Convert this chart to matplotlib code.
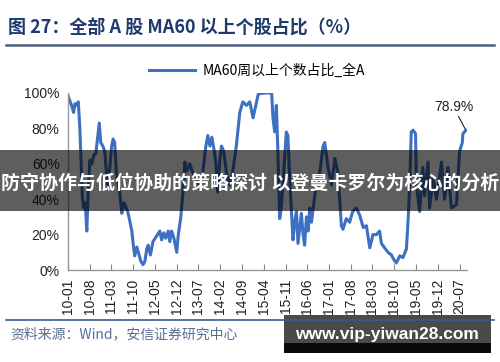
"""
Share of A-share stocks trading above their 60-day moving average (weekly).
"""

import matplotlib.pyplot as plt
import matplotlib.patches as patches
import pandas as pd

plt.rcParams["font.family"] = ["Liberation Sans", "Noto Sans CJK SC", "DejaVu Sans"]

# Readings taken off the reference chart (date, % of stocks above MA60)
dates = [
    "2010-01-04", "2010-01-22", "2010-02-10", "2010-02-25", "2010-03-10", "2010-03-28",
    "2010-04-12", "2010-04-27", "2010-05-22", "2010-06-04", "2010-06-19", "2010-07-04",
    "2010-07-18", "2010-08-03", "2010-08-21", "2010-09-12", "2010-10-01", "2010-10-19",
    "2010-11-03", "2010-11-18", "2010-12-08", "2010-12-27", "2011-01-12", "2011-01-27",
    "2011-02-15", "2011-03-04", "2011-03-19", "2011-04-03", "2011-04-18", "2011-05-03",
    "2011-05-22", "2011-06-12", "2011-07-01", "2011-07-19", "2011-08-09", "2011-08-28",
    "2011-09-18", "2011-10-03", "2011-10-16", "2011-11-06", "2011-11-25", "2011-12-15",
    "2012-01-06", "2012-01-24", "2012-02-12", "2012-02-25", "2012-03-18", "2012-04-12",
    "2012-05-15", "2012-06-18", "2012-07-06", "2012-07-27", "2012-08-15", "2012-09-09",
    "2012-09-24", "2012-10-12", "2012-11-03", "2012-12-01", "2012-12-16", "2013-01-10",
    "2013-02-01", "2013-02-19", "2013-03-10", "2013-04-07", "2013-05-07", "2013-06-06",
    "2013-07-13", "2013-08-13", "2013-09-12", "2013-10-01", "2013-10-22", "2013-11-10",
    "2013-11-28", "2013-12-18", "2014-01-06", "2014-01-27", "2014-02-12", "2014-03-06",
    "2014-04-01", "2014-05-04", "2014-06-03", "2014-07-07", "2014-08-10", "2014-09-09",
    "2014-10-15", "2014-11-16", "2014-12-18", "2015-01-21", "2015-02-08", "2015-04-10",
    "2015-06-18", "2015-07-01", "2015-07-18", "2015-08-03", "2015-08-18", "2015-09-05",
    "2015-09-20", "2015-10-06", "2015-11-09", "2015-11-24", "2015-12-12", "2016-01-13",
    "2016-02-01", "2016-02-16", "2016-03-02", "2016-04-04", "2016-04-21", "2016-05-06",
    "2016-05-24", "2016-06-09", "2016-06-25", "2016-07-12", "2016-08-13", "2016-09-12",
    "2016-10-01", "2016-11-03", "2016-11-19", "2016-12-21", "2017-01-24", "2017-02-26",
    "2017-03-28", "2017-05-01", "2017-05-16", "2017-06-18", "2017-07-21", "2017-08-19",
    "2017-09-25", "2017-10-27", "2017-12-01", "2018-01-01", "2018-02-03", "2018-03-06",
    "2018-04-09", "2018-05-10", "2018-05-28", "2018-06-28", "2018-08-01", "2018-09-03",
    "2018-09-25", "2018-10-21", "2018-11-24", "2018-12-25", "2019-01-28", "2019-02-15",
    "2019-03-01", "2019-03-16", "2019-04-03", "2019-04-27", "2019-05-06", "2019-06-06",
    "2019-07-07", "2019-07-24", "2019-08-27", "2019-09-12", "2019-10-15", "2019-11-18",
    "2020-01-06", "2020-02-06", "2020-03-09", "2020-04-12", "2020-06-01", "2020-07-01",
    "2020-07-28", "2020-08-03", "2020-09-01",
]
pct_above_ma60 = [
    98, 95, 92, 89, 94, 93,
    95, 80, 41, 35, 38, 22,
    45, 62, 60, 65, 66, 75,
    83, 72, 70, 67, 55, 48,
    58, 70, 74, 72, 56, 50,
    44, 32, 38, 36, 33, 28,
    22, 14, 8, 13, 9, 5,
    3, 5, 12, 14, 8.5, 16,
    19, 22, 17, 21, 18, 22,
    16, 22, 18, 10, 20, 30,
    45, 61, 56, 60, 55, 52,
    48, 55, 70, 76, 70, 75,
    69, 61, 44, 62, 70, 67,
    55, 48, 56, 70, 89, 95,
    93, 95, 86, 95, 99.5, 100,
    100, 86, 78, 93, 67, 29,
    35, 48, 78, 76, 52, 17,
    28, 33, 15, 32, 20, 14,
    30, 22, 35, 27, 42, 53,
    55, 70, 72, 58, 48, 63,
    55, 25, 23, 29, 27, 33,
    35, 31, 24, 25, 12.5, 20,
    20, 22, 15, 12.5, 10, 8.5,
    6, 4, 8, 7, 12, 30,
    48, 78, 79, 77, 48, 33,
    58, 42, 61, 35, 52, 40,
    61, 40, 58, 35, 37, 67,
    72, 77, 78.9,
]
tick_labels = [
    "10-01", "10-08", "11-03", "11-10", "12-05", "12-12", "13-07", "14-02", "14-09",
    "15-04", "15-11", "16-06", "17-01", "17-08", "18-03", "18-10", "19-05", "19-12",
    "20-07",
]
y_ticks = [0, 20, 40, 60, 80, 100]

title_text = "图 27：全部 A 股 MA60 以上个股占比（%）"
series_label = "MA60周以上个数占比_全A"
source_text = "资料来源：Wind，安信证券研究中心"
banner_text = "防守协作与低位协助的策略探讨 以登曼卡罗尔为核心的分析"
site_text = "www.vip-yiwan28.com"

LINE_BLUE = "#3d6fc2"
NAVY = "#1f3a6e"

W, H = 500, 362


def fx(px):
    return px / W


def fy(py):
    return 1 - py / H


def main():
    df = pd.DataFrame({"date": pd.to_datetime(dates), "pct": pct_above_ma60})
    tick_dates = pd.to_datetime(["20" + t + "-01" for t in tick_labels])

    fig = plt.figure(figsize=(5, 3.62), dpi=100)
    ax = fig.add_axes([fx(68), fy(270), fx(467) - fx(68), fy(93) - fy(270)])

    line, = ax.plot(df["date"], df["pct"], color=LINE_BLUE, lw=2.2, label=series_label,
                    solid_joinstyle="round")

    ax.set_xlim(pd.Timestamp("2010-01-01"), pd.Timestamp("2020-09-12"))
    ax.set_ylim(0, 100)
    ax.set_xticks(tick_dates)
    ax.set_xticklabels(tick_labels, rotation=90, fontsize=10, color="#222222")
    ax.set_yticks(y_ticks)
    ax.set_yticklabels([f"{v}%" for v in y_ticks], fontsize=10, color="#222222")
    ax.tick_params(axis="x", direction="in", length=4, color="#888888", pad=6)
    ax.tick_params(axis="y", length=0, pad=6)
    for side in ("top", "right"):
        ax.spines[side].set_visible(False)
    for side in ("left", "bottom"):
        ax.spines[side].set_color("#999999")
        ax.spines[side].set_linewidth(1.0)

    last = df.iloc[-1]
    ax.annotate(f"{last['pct']:.1f}%", xy=(last["date"], last["pct"]),
                xytext=(-9, 12), textcoords="offset points", ha="center", va="bottom",
                fontsize=10, color="#222222",
                arrowprops=dict(arrowstyle="-", color="#222222", lw=0.8,
                                shrinkA=0, shrinkB=1))

    fig.legend(handles=[line], loc="center", bbox_to_anchor=(fx(257), fy(71)),
               frameon=False, handlelength=3.3, handletextpad=0.5,
               prop={"family": ["Noto Sans CJK SC"], "size": 10})

    # header and footer
    fig.text(fx(8), fy(27), title_text, fontsize=13, fontweight="bold", color=NAVY,
             va="center", ha="left", family=["Noto Sans CJK SC"])
    fig.add_artist(plt.Line2D([fx(6), fx(494)], [fy(45), fy(45)], color="#4a5d7e", lw=1.8))
    fig.add_artist(plt.Line2D([fx(6), fx(494)], [fy(320), fy(320)], color="#3a5a8a", lw=1.2))
    fig.text(fx(10), fy(334), source_text, fontsize=10, color="#5a6f96",
             va="center", ha="left", family=["Noto Sans CJK SC"], style="italic")

    # overlays
    fig.add_artist(patches.Rectangle((0, fy(211)), 1, fy(150) - fy(211),
                                     transform=fig.transFigure, color="black",
                                     alpha=0.63, lw=0))
    fig.text(0.5, fy(183), banner_text, fontsize=13.7, fontweight="bold", color="white",
             ha="center", va="center", family=["Noto Sans CJK SC"])
    fig.add_artist(patches.Rectangle((fx(284), fy(353)), fx(491) - fx(284), fy(315) - fy(353),
                                     transform=fig.transFigure, color="#4a4a4a", lw=0))
    fig.add_artist(patches.Rectangle((fx(284), fy(353)), fx(491) - fx(284), fy(343) - fy(353),
                                     transform=fig.transFigure, color="#0a0a0a", lw=0))
    fig.text(fx(387), fy(335), site_text, fontsize=12.5, fontweight="bold", color="white",
             ha="center", va="center")

    fig.savefig("out.png", dpi=100)
    plt.close(fig)


if __name__ == "__main__":
    main()
